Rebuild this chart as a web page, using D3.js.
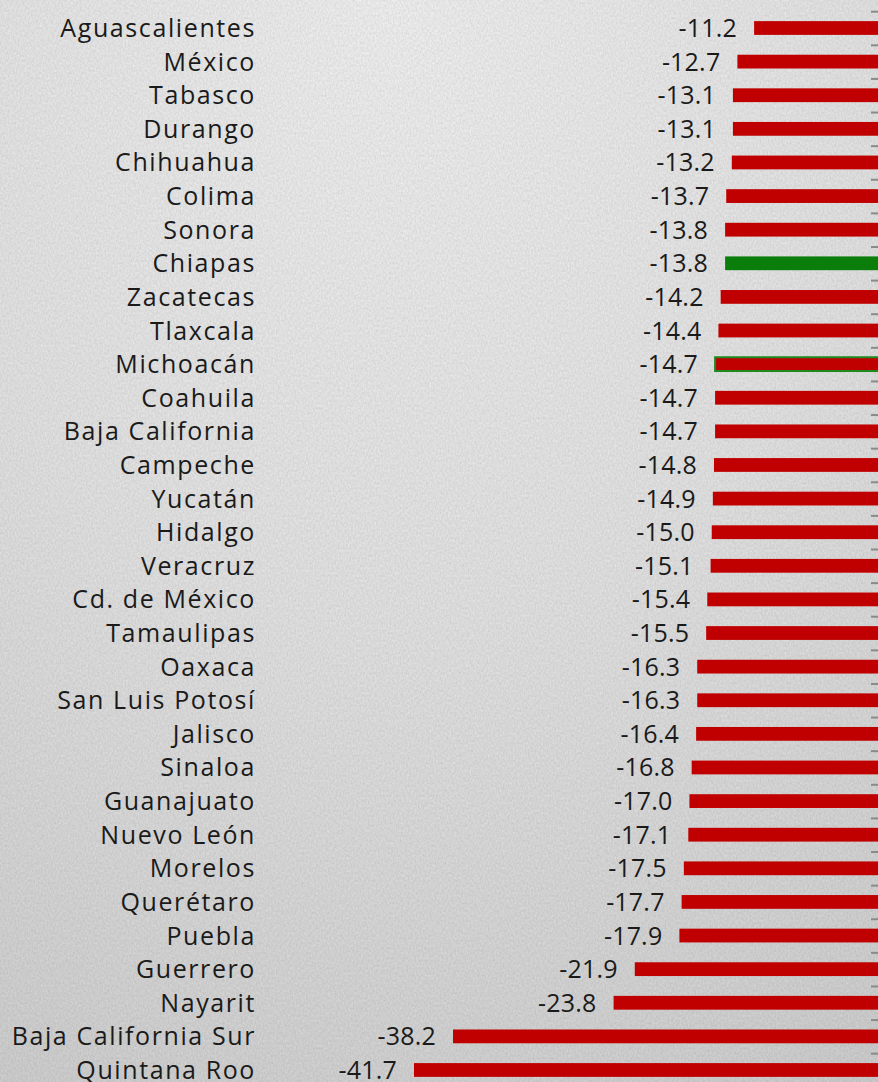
<!DOCTYPE html>
<html>
<head>
<meta charset="utf-8">
<script src="https://cdn.jsdelivr.net/npm/d3@7"></script>
<style>
  html, body { margin: 0; padding: 0; background: #e6e6e6; }
  svg { display: block; }
  text { font-family: "Open Sans", "Noto Sans", sans-serif; fill: #1a1a1a; }
  .lbl { letter-spacing: 1.6px; }
  .val { letter-spacing: 0.2px; }
</style>
</head>
<body>
<script>
const states = ["Aguascalientes","México","Tabasco","Durango","Chihuahua","Colima","Sonora","Chiapas","Zacatecas","Tlaxcala","Michoacán","Coahuila","Baja California","Campeche","Yucatán","Hidalgo","Veracruz","Cd. de México","Tamaulipas","Oaxaca","San Luis Potosí","Jalisco","Sinaloa","Guanajuato","Nuevo León","Morelos","Querétaro","Puebla","Guerrero","Nayarit","Baja California Sur","Quintana Roo"];
const values = [-11.2,-12.7,-13.1,-13.1,-13.2,-13.7,-13.8,-13.8,-14.2,-14.4,-14.7,-14.7,-14.7,-14.8,-14.9,-15.0,-15.1,-15.4,-15.5,-16.3,-16.3,-16.4,-16.8,-17.0,-17.1,-17.5,-17.7,-17.9,-21.9,-23.8,-38.2,-41.7];
const fillColors = states.map(s => s === "Chiapas" ? "#0a7d0a" : "#c00000");
const strokeColors = states.map(s => s === "Michoacán" ? "#1f8a1f" : "none");

const W = 878, H = 1082;
const svg = d3.select("body").append("svg").attr("width", W).attr("height", H);

const defs = svg.append("defs");
const grad = defs.append("radialGradient").attr("id", "bg")
  .attr("cx", "0.45").attr("cy", "0.0").attr("r", "1.15");
grad.append("stop").attr("offset", "0").attr("stop-color", "#f6f6f6");
grad.append("stop").attr("offset", "0.5").attr("stop-color", "#e8e8e8");
grad.append("stop").attr("offset", "1").attr("stop-color", "#d2d2d2");
const f = defs.append("filter").attr("id", "noise").attr("x", 0).attr("y", 0).attr("width", "100%").attr("height", "100%");
f.append("feTurbulence").attr("type", "fractalNoise").attr("baseFrequency", "0.6 0.4").attr("numOctaves", 2).attr("seed", 3).attr("result", "t");
f.append("feColorMatrix").attr("in", "t").attr("type", "matrix")
  .attr("values", "0 0 0 0 0  0 0 0 0 0  0 0 0 0 0  0 0 0 0.13 0");
svg.append("rect").attr("width", W).attr("height", H).attr("fill", "url(#bg)");
svg.append("rect").attr("width", W).attr("height", H).attr("filter", "url(#noise)");

const x = d3.scaleLinear().domain([-41.7, 0]).range([414, 879]);
const y = d3.scaleBand().domain(states).range([11.2, 1086.8]).paddingInner(0.59).paddingOuter(0.295);

const tickScale = d3.scaleLinear().domain([0, states.length]).range([11.2, 1086.8]);
const axis = d3.axisLeft(tickScale).tickValues(d3.range(states.length + 1)).tickSize(8).tickFormat("");
const ag = svg.append("g").attr("transform", "translate(879,0)").call(axis);
ag.select(".domain").remove();
ag.selectAll(".tick line").attr("stroke", "#8a8a8a").attr("stroke-width", 2);

const data = states.map((s, i) => ({ s, v: values[i], fill: fillColors[i], stroke: strokeColors[i] }));

svg.append("g").selectAll("rect").data(data).join("rect")
  .attr("x", d => x(d.v))
  .attr("y", d => y(d.s))
  .attr("width", d => x(0) - x(d.v))
  .attr("height", y.bandwidth())
  .attr("fill", d => d.fill)
  .attr("stroke", d => d.stroke)
  .attr("stroke-width", 2);

svg.append("g").selectAll("text").data(data).join("text")
  .attr("class", "lbl")
  .attr("x", 256)
  .attr("y", d => y(d.s) + y.bandwidth() / 2)
  .attr("dy", "0.36em")
  .attr("text-anchor", "end")
  .attr("font-size", 25)
  .text(d => d.s);

svg.append("g").selectAll("text").data(data).join("text")
  .attr("class", "val")
  .attr("x", d => x(d.v) - 17)
  .attr("y", d => y(d.s) + y.bandwidth() / 2)
  .attr("dy", "0.36em")
  .attr("text-anchor", "end")
  .attr("font-size", 25)
  .text(d => d3.format(".1f")(d.v).replace("−", "-"));
</script>
</body>
</html>
